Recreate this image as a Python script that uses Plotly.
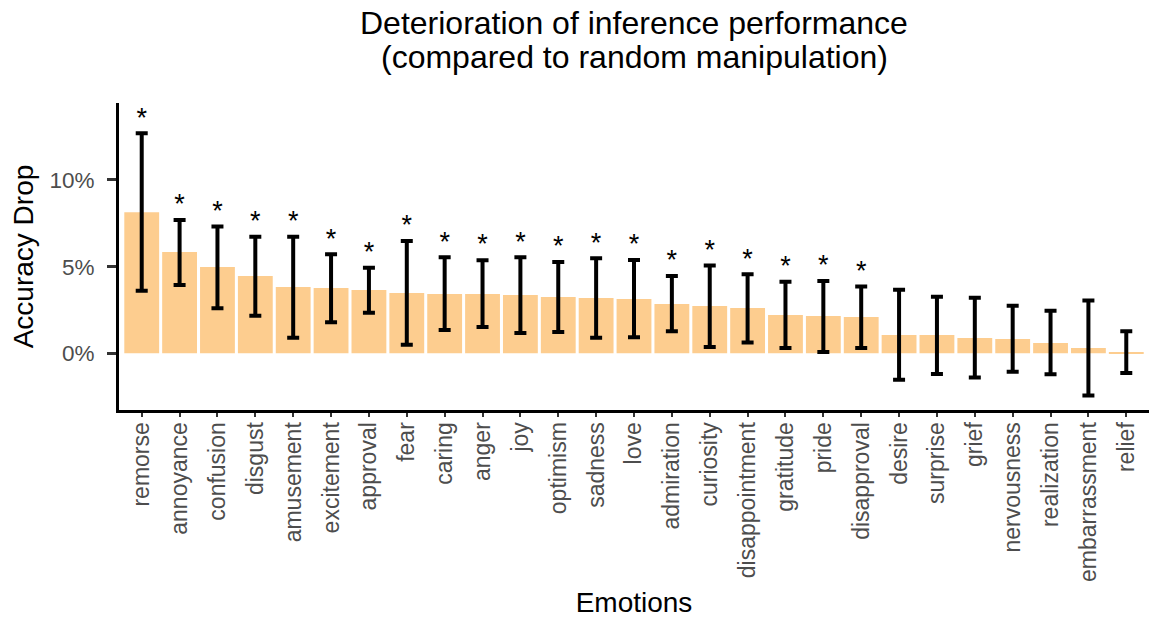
import plotly.graph_objects as go

emotions = ["remorse", "annoyance", "confusion", "disgust", "amusement", "excitement",
            "approval", "fear", "caring", "anger", "joy", "optimism", "sadness", "love",
            "admiration", "curiosity", "disappointment", "gratitude", "pride", "disapproval",
            "desire", "surprise", "grief", "nervousness", "realization", "embarrassment", "relief"]
drop = [8.14, 5.85, 4.98, 4.46, 3.83, 3.77, 3.65, 3.48, 3.42, 3.42, 3.37, 3.25, 3.19, 3.13,
        2.84, 2.73, 2.61, 2.21, 2.15, 2.10, 1.06, 1.06, 0.88, 0.83, 0.59, 0.31, 0.08]
upper = [12.69, 7.69, 7.31, 6.73, 6.73, 5.71, 4.94, 6.48, 5.54, 5.37, 5.54, 5.27, 5.48, 5.38,
         4.46, 5.06, 4.56, 4.13, 4.17, 3.85, 3.67, 3.27, 3.21, 2.75, 2.46, 3.04, 1.27]
lower = [3.61, 3.94, 2.60, 2.17, 0.90, 1.79, 2.34, 0.50, 1.35, 1.52, 1.17, 1.23, 0.90, 0.92,
         1.27, 0.36, 0.63, 0.31, 0.08, 0.31, -1.52, -1.19, -1.39, -1.06, -1.21, -2.44, -1.14]
significant = [True] * 20 + [False] * 7
y_ticks = [0, 5, 10]
y_tick_labels = ["0%", "5%", "10%"]
title_lines = ["Deterioration of inference performance", "(compared to random manipulation)"]

err_plus = [u - d for u, d in zip(upper, drop)]
err_minus = [d - l for d, l in zip(drop, lower)]

FONT = "Liberation Sans, Arial, Helvetica, sans-serif"

fig = go.Figure()
fig.add_trace(go.Bar(
    x=emotions, y=drop, width=0.92,
    marker=dict(color="#FDCD8F", line=dict(width=0)),
    error_y=dict(type="data", symmetric=False, array=err_plus, arrayminus=err_minus,
                 color="black", thickness=4, width=6),
    showlegend=False, hoverinfo="skip",
))
sig_x = [e for e, s in zip(emotions, significant) if s]
sig_y = [u for u, s in zip(upper, significant) if s]
fig.add_trace(go.Scatter(
    x=sig_x, y=sig_y, mode="text", text=["*"] * len(sig_x),
    textposition="top center", textfont=dict(size=27, color="black", family=FONT),
    showlegend=False, hoverinfo="skip",
))

# plot area: 307 px tall starting 103 px from top of figure
fig.add_annotation(text=title_lines[0], xref="paper", yref="paper", x=0.5, y=1.262,
                   xanchor="center", yanchor="middle", showarrow=False, borderpad=0,
                   font=dict(size=32, color="black", family=FONT))
fig.add_annotation(text=title_lines[1], xref="paper", yref="paper", x=0.5, y=1.150,
                   xanchor="center", yanchor="middle", showarrow=False, borderpad=0,
                   font=dict(size=32, color="black", family=FONT))

fig.update_layout(
    width=1149, height=618,
    margin=dict(l=119, r=0, t=103, b=208, autoexpand=False),
    paper_bgcolor="white", plot_bgcolor="white",
    font=dict(family=FONT, color="black"),
    bargap=0.08,
)
fig.update_xaxes(
    range=[-0.6, 26.6], showline=True, linecolor="black", linewidth=3,
    ticks="outside", ticklen=4, tickwidth=1.5, tickcolor="#333333",
    tickangle=-90, tickfont=dict(size=23, color="#4D4D4D"), ticklabelstandoff=-4,
    showgrid=False, zeroline=False, automargin=False,
    title=dict(text="Emotions", font=dict(size=28, color="black"), standoff=19),
)
fig.update_yaxes(
    range=[-3.27, 14.44], showline=True, linecolor="black", linewidth=3,
    ticks="outside", ticklen=9, tickwidth=3, tickcolor="#333333",
    tickvals=y_ticks, ticktext=y_tick_labels, ticklabelstandoff=8,
    tickfont=dict(size=22.5, color="#4D4D4D"),
    showgrid=False, zeroline=False, automargin=False,
    title=dict(text="Accuracy Drop", font=dict(size=28, color="black"), standoff=8),
)

fig.write_html("out.html", config={"displayModeBar": False},
               post_script="document.body.style.margin='0';document.body.style.overflow='hidden';")
